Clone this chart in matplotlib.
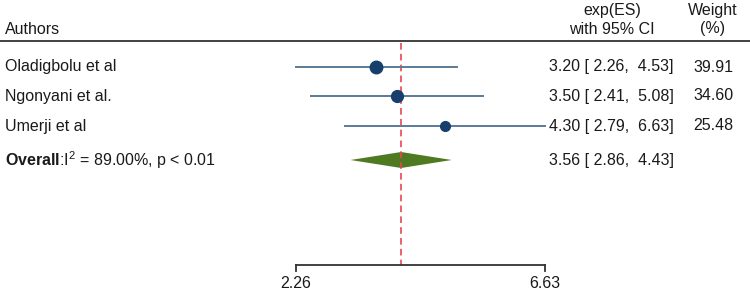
import numpy as np
import matplotlib
matplotlib.use("Agg")
import matplotlib.pyplot as plt
from matplotlib import font_manager

names = [f.name for f in font_manager.fontManager.ttflist]
fam = "Liberation Sans Narrow" if "Liberation Sans Narrow" in names else "Liberation Sans"
plt.rcParams['font.family'] = [fam, 'DejaVu Sans']
plt.rcParams['mathtext.fontset'] = 'custom'
plt.rcParams['mathtext.rm'] = fam
plt.rcParams['mathtext.bf'] = fam + ':bold'

# data
studies = ["Oladigbolu et al", "Ngonyani et al.", "Umerji et al"]
es = [3.20, 3.50, 4.30]
ci_lo = [2.26, 2.41, 2.79]
ci_hi = [4.53, 5.08, 6.63]
weights = [39.91, 34.60, 25.48]
overall_es, overall_lo, overall_hi = 3.56, 2.86, 4.43
overall_label = r"$\bf{Overall}$:I$^2$ = 89.00%, p < 0.01"
xticks = [2.26, 6.63]

W, H = 750, 291
fig = plt.figure(figsize=(W / 100, H / 100), dpi=100)
ax = fig.add_axes([0, 0, 1, 1])
ax.set_xscale('log')
# log scale: 2.26 at px 296, 6.63 at px 545
L = np.log(6.63 / 2.26) / 249
ax.set_xlim(2.26 * np.exp(-296 * L), 2.26 * np.exp((W - 296) * L))
ax.set_ylim(H, 0)
ax.axis('off')
tr = ax.get_yaxis_transform()
fx = lambda px: px / W

row_y = [67, 96, 126]
over_y = 160
fs = 11.5
txtc = '#1a1a1a'

# header
ax.text(fx(5), 29, "Authors", fontsize=fs, va='center', ha='left', color=txtc, transform=tr)
ax.text(fx(612), 10, "exp(ES)", fontsize=fs, va='center', ha='center', color=txtc, transform=tr)
ax.text(fx(612), 29, "with 95% CI", fontsize=fs, va='center', ha='center', color=txtc, transform=tr)
ax.text(fx(713), 10, "Weight", fontsize=fs, va='center', ha='center', color=txtc, transform=tr)
ax.text(fx(713), 29, "(%)", fontsize=fs, va='center', ha='center', color=txtc, transform=tr)
ax.plot([0, 1], [41, 41], color='#333333', lw=1.3, transform=tr)

# reference line at overall
ax.plot([overall_es, overall_es], [43, 265], color='#e8474f', lw=1.2, ls=(0, (4, 2.5)))

msizes = [9, 8.5, 7]
for i in range(len(studies)):
    y = row_y[i]
    ax.plot([ci_lo[i], ci_hi[i]], [y, y], color='#5b7b99', lw=1.4)
    ax.plot(es[i], y, 'o', color='#173f6b', ms=msizes[i])
    ax.text(fx(5), y, studies[i], fontsize=fs, va='center', ha='left', color=txtc, transform=tr)
    ax.text(fx(549), y, "%.2f [ %.2f,  %.2f]" % (es[i], ci_lo[i], ci_hi[i]),
            fontsize=fs, va='center', ha='left', color=txtc, transform=tr)
    ax.text(fx(693), y, "%.2f" % weights[i], fontsize=fs, va='center', ha='left',
            color=txtc, transform=tr)

# overall diamond
ax.fill([overall_lo, overall_es, overall_hi, overall_es],
        [over_y, over_y - 8, over_y, over_y + 8], color='#4f7a22', lw=0)
ax.text(fx(5), over_y, overall_label, fontsize=fs, va='center', ha='left', color=txtc, transform=tr)
ax.text(fx(549), over_y, "%.2f [ %.2f,  %.2f]" % (overall_es, overall_lo, overall_hi),
        fontsize=fs, va='center', ha='left', color=txtc, transform=tr)

# x axis
ax.plot([xticks[0], xticks[-1]], [265, 265], color='#333333', lw=1.3)
for t in xticks:
    ax.plot([t, t], [265, 271], color='#333333', lw=1.3)
    ax.text(t, 283, "%.2f" % t, fontsize=fs, va='center', ha='center', color=txtc)

fig.savefig("out.png", dpi=100)
